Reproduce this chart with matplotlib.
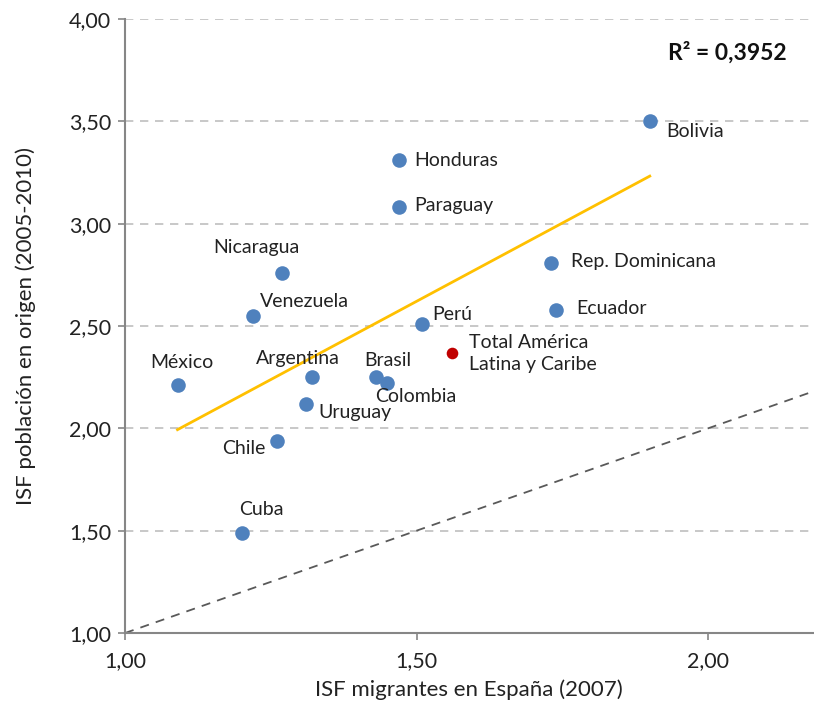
import numpy as np
import matplotlib
matplotlib.use("Agg")
import matplotlib.pyplot as plt

plt.rcParams['font.family'] = ['Lato', 'DejaVu Sans']

# ISF: migrants in Spain (2007) vs population in country of origin (2005-2010)
countries = ["Bolivia", "Honduras", "Paraguay", "Rep. Dominicana", "Nicaragua",
             "Ecuador", "Venezuela", "Perú", "México", "Argentina", "Brasil",
             "Colombia", "Uruguay", "Chile", "Cuba"]
isf_spain = [1.90, 1.47, 1.47, 1.73, 1.27, 1.74, 1.22, 1.51, 1.09, 1.32, 1.43,
             1.45, 1.31, 1.26, 1.20]
isf_origin = [3.50, 3.31, 3.08, 2.81, 2.76, 2.58, 2.55, 2.51, 2.21, 2.25, 2.25,
              2.22, 2.12, 1.94, 1.49]

total_label = "Total América\nLatina y Caribe"
total_spain = 1.56
total_origin = 2.37

# label offsets in pixels (dx, dy, ha)
offsets = {
    "Bolivia": (16, -10, "left"),
    "Honduras": (15, 0, "left"),
    "Paraguay": (15, 2, "left"),
    "Rep. Dominicana": (20, 1, "left"),
    "Nicaragua": (-26, 25, "center"),
    "Ecuador": (20, 1, "left"),
    "Venezuela": (7, 14, "left"),
    "Perú": (10, 9, "left"),
    "México": (4, 23, "center"),
    "Argentina": (-14, 19, "center"),
    "Brasil": (12, 17, "center"),
    "Colombia": (-12, -13, "left"),
    "Uruguay": (13, -9, "left"),
    "Chile": (-33, -8, "center"),
    "Cuba": (20, 23, "center"),
}

fig = plt.figure(figsize=(8.14, 7.08), dpi=100)
ax = fig.add_axes([0.1536, 0.1059, 0.8452, 0.8673])

xmin, xmax = 1.0, 2.18
ax.set_xlim(xmin, xmax)
ax.set_ylim(1.0, 4.0)

# horizontal grid
for y in [1.5, 2.0, 2.5, 3.0, 3.5, 4.0]:
    ax.axhline(y, color="#BFBFBF", lw=1.2, dashes=(5, 4), zorder=1)

# reference line y = x
ax.plot([xmin, xmax], [xmin, xmax], color="#595959", lw=1.3, dashes=(5, 4), zorder=2)

# linear trend across countries
xs = np.array(isf_spain)
ys = np.array(isf_origin)
slope, intercept = np.polyfit(xs, ys, 1)
tx = np.array([xs.min(), xs.max()])
ax.plot(tx, slope * tx + intercept, color="#FFC000", lw=2.0, zorder=3)

ax.scatter(isf_spain, isf_origin, s=110, color="#4F81BD", zorder=4, linewidths=0)
ax.scatter([total_spain], [total_origin], s=70, color="#C00000", zorder=4, linewidths=0)

for name, x, y in zip(countries, isf_spain, isf_origin):
    dx, dy, ha = offsets[name]
    ax.annotate(name, (x, y), xytext=(dx, dy), textcoords="offset pixels",
                ha=ha, va="center", fontsize=14, color="#222222", zorder=5)

ax.annotate(total_label, (total_spain, total_origin), xytext=(81, -1),
            textcoords="offset pixels", ha="center", va="center",
            multialignment="left", fontsize=14, color="#222222",
            linespacing=1.35, zorder=5)

ax.text(0.962, 0.946, "R² = 0,3952", transform=ax.transAxes, ha="right",
        va="center", fontsize=16.5, fontweight="bold", color="#111111")

ax.set_xticks([1.0, 1.5, 2.0])
ax.set_xticklabels(["1,00", "1,50", "2,00"])
ax.set_yticks([1.0, 1.5, 2.0, 2.5, 3.0, 3.5, 4.0])
ax.set_yticklabels(["1,00", "1,50", "2,00", "2,50", "3,00", "3,50", "4,00"])
ax.tick_params(axis="both", labelsize=15.5, colors="#868686", labelcolor="#222222",
               length=5, width=1.2)
ax.tick_params(axis="x", pad=8)
ax.tick_params(axis="y", pad=5)

for side in ["top", "right"]:
    ax.spines[side].set_visible(False)
for side in ["left", "bottom"]:
    ax.spines[side].set_color("#868686")
    ax.spines[side].set_linewidth(1.5)

ax.set_xlabel("ISF migrantes en España (2007)", fontsize=16, color="#222222", labelpad=6)
ax.set_ylabel("ISF población en origen (2005-2010)", fontsize=16, color="#222222", labelpad=24)

fig.savefig("out.png", dpi=100)
